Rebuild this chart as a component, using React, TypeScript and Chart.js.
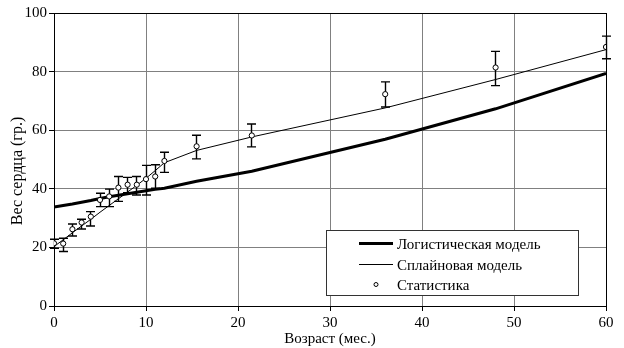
import React, { useEffect, useRef } from "react";
import { Chart, registerables } from "chart.js";

Chart.register(...registerables);

// Age in months at which heart weight was measured / models evaluated
const months = [0, 1, 2, 3, 4, 5, 6, 7, 8, 9, 10, 11, 12, 15.5, 21.5, 36, 48, 60];

// Observed statistics: mean heart weight (g) and error-bar limits
const statMean = [21.4, 21.3, 26.2, 28.5, 30.5, 36.2, 37.4, 40.4, 41.4, 41.4, 43.3, 44.2, 49.5, 54.5, 58.2, 72.3, 81.4, 88.4];
const statLow = [19.7, 18.6, 23.9, 26.3, 27.3, 33.9, 33.9, 35.7, 38.7, 37.9, 37.9, 40.2, 45.6, 50.2, 54.3, 67.9, 75.2, 84.4];
const statHigh = [22.8, 23.1, 28.0, 29.6, 32.2, 38.5, 39.9, 44.2, 43.9, 44.2, 48.0, 48.2, 52.5, 58.3, 62.1, 76.5, 86.9, 92.1];

// Model curves evaluated at the same ages
const logisticModel = [33.8, 34.3, 34.8, 35.4, 36.0, 36.7, 37.3, 37.8, 38.3, 38.8, 39.3, 39.8, 40.2, 42.6, 46.0, 56.9, 67.3, 79.4];
const splineModel = [20.3, 22.6, 25.0, 27.3, 29.6, 32.0, 34.3, 36.6, 38.9, 41.2, 43.6, 46.2, 48.9, 53.1, 57.7, 67.6, 77.3, 87.5];

// Axis ranges and text
const xMin = 0, xMax = 60, xStep = 10;
const yMin = 0, yMax = 100, yStep = 20;
const xTitle = "Возраст (мес.)";
const yTitle = "Вес сердца (гр.)";
const legendLabels = ["Логистическая модель", "Сплайновая модель", "Статистика"];

const FONT = "'Liberation Serif', 'Times New Roman', serif";

function align(p: number, w: number) {
  return Math.round(p - w / 2) + w / 2;
}

const decorPlugin = {
  id: "decor",
  beforeDatasetsDraw(chart: any) {
    const { ctx, chartArea: a } = chart;
    ctx.save();
    ctx.strokeStyle = "#000";
    ctx.lineWidth = 1;
    const l = align(a.left, 1), r = align(a.right, 1), t = align(a.top, 1), b = align(a.bottom, 1);
    ctx.strokeRect(l, t, r - l, b - t);
    ctx.restore();
  },
  beforeDatasetDraw(chart: any, args: any) {
    if (args.index !== 2) return;
    const { ctx, scales } = chart;
    const x = scales.x, y = scales.y;
    ctx.save();
    ctx.strokeStyle = "#000";
    ctx.lineWidth = 1.4;
    const cap = 4.5;
    months.forEach((m, i) => {
      const px = align(x.getPixelForValue(m), 1);
      const top = y.getPixelForValue(statHigh[i]);
      const bot = y.getPixelForValue(statLow[i]);
      ctx.beginPath();
      ctx.moveTo(px, top);
      ctx.lineTo(px, bot);
      ctx.moveTo(px - cap, top);
      ctx.lineTo(px + cap, top);
      ctx.moveTo(px - cap, bot);
      ctx.lineTo(px + cap, bot);
      ctx.stroke();
    });
    ctx.restore();
  },
  afterDraw(chart: any) {
    const { ctx, chartArea: a } = chart;
    ctx.save();
    ctx.fillStyle = "#000";
    // axis titles
    ctx.font = `15px ${FONT}`;
    ctx.textAlign = "center";
    ctx.textBaseline = "alphabetic";
    ctx.fillText(xTitle, (a.left + a.right) / 2, 343);
    ctx.save();
    ctx.translate(22, 171);
    ctx.rotate(-Math.PI / 2);
    ctx.font = `16px ${FONT}`;
    ctx.fillText(yTitle, 0, 0);
    ctx.restore();

    // legend box
    const bx = 326, by = 230, bw = 252, bh = 65;
    ctx.fillStyle = "#fff";
    ctx.fillRect(bx, by, bw, bh);
    ctx.strokeStyle = "#333";
    ctx.lineWidth = 1;
    ctx.strokeRect(bx + 0.5, by + 0.5, bw, bh);

    const rows = [243.5, 264.5, 284.5];
    ctx.strokeStyle = "#000";
    ctx.lineWidth = 3;
    ctx.beginPath();
    ctx.moveTo(359, rows[0]);
    ctx.lineTo(393, rows[0]);
    ctx.stroke();
    ctx.lineWidth = 1;
    ctx.beginPath();
    ctx.moveTo(359, rows[1]);
    ctx.lineTo(393, rows[1]);
    ctx.stroke();
    ctx.beginPath();
    ctx.arc(376, rows[2], 2, 0, Math.PI * 2);
    ctx.fillStyle = "#fff";
    ctx.fill();
    ctx.stroke();

    ctx.fillStyle = "#000";
    ctx.font = `15px ${FONT}`;
    ctx.textAlign = "left";
    ctx.textBaseline = "alphabetic";
    legendLabels.forEach((t, i) => ctx.fillText(t, 397, rows[i] + 5.5));
    ctx.restore();
  },
};

export default function App() {
  const ref = useRef<HTMLCanvasElement>(null);

  useEffect(() => {
    document.body.style.margin = "0";
    const canvas = ref.current!;
    Chart.defaults.font.family = FONT;
    Chart.defaults.font.size = 15;
    Chart.defaults.color = "#000";

    const toPts = (vals: number[]) => months.map((m, i) => ({ x: m, y: vals[i] }));

    const chart = new Chart(canvas, {
      type: "line",
      data: {
        datasets: [
          {
            label: legendLabels[0],
            data: toPts(logisticModel),
            borderColor: "#000",
            borderWidth: 3,
            pointRadius: 0,
            tension: 0,
            order: 2,
          },
          {
            label: legendLabels[1],
            data: toPts(splineModel),
            borderColor: "#000",
            borderWidth: 1,
            pointRadius: 0,
            tension: 0,
            order: 1,
          },
          {
            label: legendLabels[2],
            data: toPts(statMean),
            showLine: false,
            pointRadius: 2.6,
            pointBorderWidth: 1,
            pointBackgroundColor: "#fff",
            pointBorderColor: "#000",
            order: 0,
          },
        ],
      },
      options: {
        animation: false,
        responsive: false,
        devicePixelRatio: 1,
        layout: { padding: { left: 0, top: 13, right: 18, bottom: 0 } },
        plugins: {
          legend: { display: false },
          tooltip: { enabled: false },
        },
        scales: {
          x: {
            type: "linear",
            min: xMin,
            max: xMax,
            ticks: { stepSize: xStep, padding: 3, font: { size: 15, family: FONT }, color: "#000" },
            grid: { color: "#808080", lineWidth: 1, tickLength: 5, tickColor: "#000" },
            border: { display: false },
            afterFit: (s: any) => {
              s.height = 42;
            },
          },
          y: {
            type: "linear",
            min: yMin,
            max: yMax,
            ticks: { stepSize: yStep, padding: 2, font: { size: 15, family: FONT }, color: "#000" },
            grid: { color: "#808080", lineWidth: 1, tickLength: 5, tickColor: "#000" },
            border: { display: false },
            afterFit: (s: any) => {
              s.width = 54;
            },
          },
        },
      },
      plugins: [decorPlugin],
    });
    return () => chart.destroy();
  }, []);

  return <canvas ref={ref} width={624} height={348} style={{ display: "block" }} />;
}
